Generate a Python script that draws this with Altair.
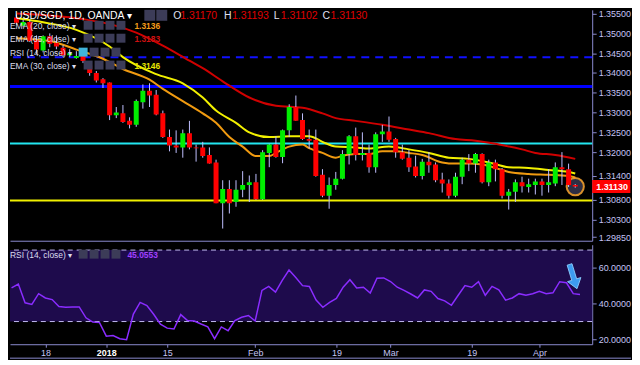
import altair as alt
import pandas as pd

# ---------------- data ----------------
opens = [1.3540, 1.3519, 1.3529, 1.3483, 1.3457, 1.3493, 1.3476, 1.3464, 1.3445, 1.3438,
         1.3443, 1.3419, 1.3400, 1.3384, 1.3376, 1.3293, 1.3298, 1.3279, 1.3269, 1.3326,
         1.3355, 1.3345, 1.3298, 1.3238, 1.3217, 1.3212, 1.3248, 1.3212, 1.3212, 1.3193,
         1.3174, 1.3071, 1.3107, 1.3074, 1.3105, 1.3117, 1.3124, 1.3081, 1.3198, 1.3219,
         1.3188, 1.3255, 1.3314, 1.3281, 1.3233, 1.3231, 1.3143, 1.3090, 1.3117, 1.3133,
         1.3195, 1.3240, 1.3193, 1.3198, 1.3162, 1.3245, 1.3252, 1.3233, 1.3200, 1.3186,
         1.3164, 1.3140, 1.3176, 1.3169, 1.3131, 1.3121, 1.3090, 1.3138, 1.3181, 1.3171,
         1.3195, 1.3124, 1.3174, 1.3157, 1.3090, 1.3100, 1.3124, 1.3112, 1.3117, 1.3126,
         1.3117, 1.3121, 1.3162, 1.3157, 1.31170]
highs = [1.3548, 1.3535, 1.3535, 1.3495, 1.3495, 1.3500, 1.3495, 1.3470, 1.3460, 1.3455,
         1.3450, 1.3429, 1.3405, 1.3387, 1.3376, 1.3314, 1.3319, 1.3288, 1.3333, 1.3371,
         1.3374, 1.3357, 1.3305, 1.3257, 1.3255, 1.3257, 1.3279, 1.3219, 1.3226, 1.3212,
         1.3181, 1.3129, 1.3129, 1.3129, 1.3152, 1.3141, 1.3145, 1.3205, 1.3221, 1.3240,
         1.3257, 1.3321, 1.3343, 1.3298, 1.3257, 1.3257, 1.3157, 1.3136, 1.3150, 1.3205,
         1.3243, 1.3262, 1.3250, 1.3219, 1.3250, 1.3269, 1.3290, 1.3236, 1.3219, 1.3205,
         1.3191, 1.3183, 1.3200, 1.3174, 1.3148, 1.3131, 1.3148, 1.3186, 1.3195, 1.3198,
         1.3197, 1.3181, 1.3181, 1.3160, 1.3107, 1.3131, 1.3138, 1.3133, 1.3133, 1.3133,
         1.3157, 1.3174, 1.3200, 1.3171, 1.31193]
lows = [1.3522, 1.3515, 1.3478, 1.3448, 1.3452, 1.3465, 1.3460, 1.3440, 1.3440, 1.3436,
        1.3425, 1.3393, 1.3376, 1.3362, 1.3281, 1.3286, 1.3274, 1.3260, 1.3264, 1.3310,
        1.3314, 1.3293, 1.3236, 1.3202, 1.3198, 1.3186, 1.3207, 1.3176, 1.3186, 1.3171,
        1.3071, 1.3007, 1.3045, 1.3062, 1.3086, 1.3074, 1.3079, 1.3079, 1.3162, 1.3186,
        1.3172, 1.3238, 1.3279, 1.3231, 1.3209, 1.3138, 1.3086, 1.3057, 1.3105, 1.3131,
        1.3169, 1.3179, 1.3179, 1.3148, 1.3148, 1.3226, 1.3226, 1.3186, 1.3181, 1.3150,
        1.3136, 1.3131, 1.3148, 1.3124, 1.3098, 1.3083, 1.3086, 1.3119, 1.3152, 1.3148,
        1.3121, 1.3114, 1.3126, 1.3083, 1.3055, 1.3074, 1.3098, 1.3098, 1.3093, 1.3090,
        1.3098, 1.3114, 1.3117, 1.3112, 1.31102]
closes = [1.3527, 1.3529, 1.3481, 1.3459, 1.3493, 1.3474, 1.3467, 1.3445, 1.3450, 1.3443,
          1.3430, 1.3400, 1.3381, 1.3374, 1.3293, 1.3300, 1.3276, 1.3269, 1.3329, 1.3355,
          1.3343, 1.3295, 1.3238, 1.3217, 1.3212, 1.3248, 1.3212, 1.3210, 1.3190, 1.3171,
          1.3071, 1.3107, 1.3071, 1.3105, 1.3117, 1.3124, 1.3081, 1.3200, 1.3219, 1.3188,
          1.3255, 1.3314, 1.3279, 1.3233, 1.3229, 1.3140, 1.3090, 1.3117, 1.3133, 1.3195,
          1.3240, 1.3193, 1.3198, 1.3162, 1.3245, 1.3252, 1.3231, 1.3200, 1.3183, 1.3162,
          1.3140, 1.3176, 1.3167, 1.3129, 1.3121, 1.3090, 1.3138, 1.3181, 1.3171, 1.3195,
          1.3124, 1.3174, 1.3157, 1.3090, 1.3100, 1.3124, 1.3114, 1.3119, 1.3126, 1.3117,
          1.3124, 1.3162, 1.3157, 1.3117, 1.31130]

rsi_values = [48.8, 51.0, 40.5, 39.6, 45.6, 43.2, 42.3, 38.4, 38.0, 38.1,
              38.2, 32.1, 29.7, 29.4, 21.8, 22.2, 20.4, 19.8, 34.2, 40.7,
              38.9, 34.1, 28.5, 26.3, 25.8, 33.9, 30.6, 30.3, 28.6, 27.0,
              20.4, 27.0, 24.9, 30.6, 32.4, 33.4, 30.3, 47.4, 49.7, 46.5,
              53.0, 58.8, 54.6, 50.1, 49.6, 42.0, 38.0, 40.7, 42.9, 49.2,
              53.4, 48.8, 49.2, 45.9, 54.2, 54.4, 52.4, 49.2, 47.4, 45.4,
              43.2, 47.7, 46.9, 42.9, 41.6, 39.1, 44.7, 50.1, 49.2, 52.3,
              44.7, 49.7, 47.7, 42.0, 43.2, 45.6, 44.7, 45.6, 46.9, 45.6,
              46.1, 52.3, 51.7, 45.6, 45.1]

ema20_idx = [0, 5, 9, 13, 16, 20, 22, 25, 28, 30, 32, 34, 36, 38, 39, 41, 43, 44, 46, 48,
             49, 51, 53, 55, 57, 59, 61, 64, 66, 68, 70, 72, 74, 77, 80, 83, 84]
ema20_val = [1.3488, 1.3481, 1.3459, 1.3436, 1.3410, 1.3383, 1.3360, 1.3329, 1.3298, 1.3274,
             1.3238, 1.3214, 1.3190, 1.3190, 1.3198, 1.3214, 1.3219, 1.3210, 1.3198, 1.3186,
             1.3191, 1.3195, 1.3195, 1.3202, 1.3202, 1.3198, 1.3193, 1.3174, 1.3171, 1.3171,
             1.3169, 1.3160, 1.3150, 1.3145, 1.3143, 1.3140, 1.3136]
ema30_idx = [0, 4, 9, 14, 16, 21, 25, 28, 30, 33, 35, 38, 41, 44, 46, 48, 51, 53, 56, 59,
             62, 65, 68, 71, 74, 77, 80, 83, 84]
ema30_val = [1.3538, 1.3528, 1.3509, 1.3467, 1.3440, 1.3397, 1.3374, 1.3338, 1.3305, 1.3274,
             1.3250, 1.3238, 1.3240, 1.3240, 1.3226, 1.3214, 1.3212, 1.3209, 1.3214, 1.3207,
             1.3198, 1.3186, 1.3183, 1.3174, 1.3162, 1.3160, 1.3155, 1.3150, 1.3146]
ema65_idx = [0, 5, 10, 15, 18, 22, 26, 28, 31, 35, 39, 43, 46, 48, 51, 55, 59, 62, 66, 69,
             72, 76, 78, 81, 84]
ema65_val = [1.3550, 1.3545, 1.3536, 1.3519, 1.3502, 1.3469, 1.3431, 1.3412, 1.3379, 1.3338,
             1.3317, 1.3312, 1.3298, 1.3286, 1.3279, 1.3269, 1.3257, 1.3248, 1.3233, 1.3229,
             1.3221, 1.3207, 1.3198, 1.3193, 1.3183]

level_blue_dashed = [1.3440]
level_blue_solid = [1.3366]
level_cyan = [1.3222]
level_yellow = [1.3078]
last_close = [1.31130]

price_ticks = [1.355, 1.35, 1.345, 1.34, 1.335, 1.33, 1.325, 1.32, 1.314, 1.308, 1.303, 1.2985]
rsi_ticks = [20, 40, 60]
rsi_bands = [70, 30]
x_tick_idx = [5, 14, 23, 36, 48, 56, 68, 78]
x_tick_txt = ["18", "2018", "15", "Feb", "19", "Mar", "19", "Apr"]

# ---------------- styling ----------------
W, H1, H2 = 585, 232, 100
AXC = "#8a8ad0"
LBL = "#c4c4f4"
FONT = "Liberation Sans"
ONE = alt.Data(values=[{"k": 0}])

xscale = alt.Scale(domain=[-0.23, 85.8], nice=False, zero=False)
pscale = alt.Scale(domain=[1.29762, 1.35595], nice=False, zero=False)
rscale = alt.Scale(domain=[17.3, 73.0], nice=False, zero=False)

top_x_axis = alt.Axis(labels=False, ticks=False, domain=True, domainColor=AXC, grid=False)
price_axis = alt.Axis(orient="right", values=price_ticks, format=".5f", labelColor=LBL,
                      labelFontSize=9, labelFont=FONT, tickColor=AXC, tickSize=4, domainColor=AXC,
                      labelPadding=2, grid=False, labelOverlap=False, labelFlush=False)
rsi_axis = alt.Axis(orient="right", values=rsi_ticks, format=".4f", labelColor=LBL,
                    labelFontSize=9, labelFont=FONT, tickColor=AXC, tickSize=4, domainColor=AXC,
                    labelPadding=2, grid=False, labelFlush=False)
label_expr = " : ".join(f"datum.value == {i} ? '{t}'" for i, t in zip(x_tick_idx, x_tick_txt)) + " : ''"
bottom_x_axis = alt.Axis(values=x_tick_idx, labelExpr=label_expr, labelFontSize=9, labelFont=FONT,
                         labelColor=alt.condition("datum.value == 14", alt.value("#ffffff"), alt.value(LBL)),
                         labelFontWeight=alt.condition("datum.value == 14", alt.value("bold"), alt.value("normal")),
                         tickColor=AXC, tickSize=3, domainColor=AXC, labelPadding=1, grid=False,
                         labelFlush=False)


def X():
    return alt.X("i:Q", scale=xscale, axis=top_x_axis, title=None)


def txt(s, x, y, color, size=8.5, weight="normal", align="left"):
    return alt.Chart(ONE).mark_text(text=s, color=color, fontSize=size, fontWeight=weight,
                                    align=align, baseline="middle", font=FONT).encode(
        x=alt.value(x), y=alt.value(y))


def box(x, y, w, h, color):
    return alt.Chart(ONE).mark_rect(color=color).encode(
        x=alt.value(x), x2=alt.value(x + w), y=alt.value(y), y2=alt.value(y + h))


candles = pd.DataFrame({"i": list(range(len(opens))), "open": opens, "high": highs,
                        "low": lows, "close": closes})
candles["dir"] = ["up" if c >= o else "down" for o, c in zip(opens, closes)]


def hline(levels, color, width, dash=None):
    m = dict(color=color, strokeWidth=width)
    if dash:
        m["strokeDash"] = dash
    return alt.Chart(pd.DataFrame({"p": levels})).mark_rule(**m).encode(
        y=alt.Y("p:Q", scale=pscale, axis=price_axis, title=None))


def ema(idx, val, color):
    return alt.Chart(pd.DataFrame({"i": idx, "v": val})).mark_line(
        color=color, strokeWidth=2, interpolate="monotone", clip=True).encode(
        x=X(), y=alt.Y("v:Q", scale=pscale, axis=price_axis, title=None))


wicks = alt.Chart(candles).mark_rule(color="#c0c0ff", strokeWidth=1, clip=True).encode(
    x=X(), y=alt.Y("low:Q", scale=pscale, axis=price_axis, title=None), y2="high:Q")
bodies = alt.Chart(candles).mark_bar(width=5, clip=True).encode(
    x=X(), y=alt.Y("open:Q", scale=pscale, axis=price_axis, title=None), y2="close:Q",
    color=alt.Color("dir:N", scale=alt.Scale(domain=["up", "down"], range=["#00ee00", "#ff0000"]),
                    legend=None))

last_df = pd.DataFrame({"i": [len(opens) - 1], "p": last_close})
ring = alt.Chart(last_df).mark_point(shape="circle", filled=True, color="#34344c", opacity=0.9,
                                     stroke="#f0a030", strokeWidth=2, size=300).encode(
    x=X(), y=alt.Y("p:Q", scale=pscale, axis=price_axis, title=None))
price_box = alt.Chart(last_df).mark_point(shape="M0,-0.5H2.95V0.5H0Z", filled=True, color="#ff0000",
                                          opacity=1, size=676).encode(
    x=alt.value(W), y=alt.Y("p:Q", scale=pscale, axis=price_axis, title=None))
price_txt = alt.Chart(last_df).mark_text(color="#ffffff", fontSize=9, font=FONT, align="left",
                                         baseline="middle", fontWeight="bold").encode(
    x=alt.value(W + 4), y=alt.Y("p:Q", scale=pscale, axis=price_axis, title=None),
    text=alt.Text("p:Q", format=".5f"))

legend_layers = [
    txt("USD/SGD, 1D, OANDA \u25be", 5, 6, "#ffffff", size=10.5),
    box(135, 0, 11, 11, "#3c3c58"), box(147, 0, 11, 11, "#3c3c58"),
    txt("O", 164, 6, "#e0e0f0", 10.5), txt("1.31170", 171, 6, "#e00000", 10.5),
    txt("H", 215, 6, "#e0e0f0", 10.5), txt("1.31193", 223, 6, "#e00000", 10.5),
    txt("L", 265, 6, "#e0e0f0", 10.5), txt("1.31102", 272, 6, "#e00000", 10.5),
    txt("C", 314, 6, "#e0e0f0", 10.5), txt("1.31130", 322, 6, "#e00000", 10.5),
]
rows = [("EMA (20, close) \u25be", 16, "1.3136", "#f59c1a", 74),
        ("EMA (65, close) \u25be", 29, "1.3183", "#d01010", 74),
        ("RSI (14, close) \u25be", 43, "", "#ffffff", 69),
        ("EMA (30, close) \u25be", 56, "1.3146", "#e6e600", 74)]
for name, yy, val, col, bx in rows:
    legend_layers.append(txt(name, 0, yy, "#dcdcec"))
    for k in range(4):
        c = "#3fb4dc" if (bx == 69 and k == 0) else "#3c3c58"
        legend_layers.append(box(bx + 11 * k, yy - 5, 9, 9, c))
    if val:
        legend_layers.append(txt(val, 125, yy, col, 8.5, "bold"))

top = alt.layer(
    hline(level_blue_dashed, "#1010ff", 2, [8, 6]),
    hline(level_blue_solid, "#0000ff", 3),
    hline(level_cyan, "#22e6f0", 2),
    hline(level_yellow, "#f0f000", 2),
    ema(ema65_idx, ema65_val, "#d00000"),
    ema(ema30_idx, ema30_val, "#f2f000"),
    ema(ema20_idx, ema20_val, "#f09a10"),
    ring, wicks, bodies, price_box, price_txt,
    *legend_layers,
).properties(width=W, height=H1)

# ---------------- RSI panel ----------------
rsi_df = pd.DataFrame({"i": list(range(len(rsi_values))), "r": rsi_values})
band_fill = alt.Chart(ONE).mark_rect(color="#1e0b4c").encode(
    x=alt.value(0), x2=alt.value(W),
    y=alt.YDatum(rsi_bands[0], scale=rscale, axis=rsi_axis, title=None),
    y2=alt.Y2Datum(rsi_bands[1]))
band_lines = alt.Chart(pd.DataFrame({"b": rsi_bands})).mark_rule(
    color="#c0b8f0", strokeWidth=1, strokeDash=[5, 4]).encode(
    y=alt.Y("b:Q", scale=rscale, axis=rsi_axis, title=None))
rsi_line = alt.Chart(rsi_df).mark_line(color="#8a2cff", strokeWidth=1.5, clip=True).encode(
    x=alt.X("i:Q", scale=xscale, axis=bottom_x_axis, title=None),
    y=alt.Y("r:Q", scale=rscale, axis=rsi_axis, title=None))
arrow = alt.Chart(ONE).mark_point(
    shape="M0,-1L0.55,-0.25L0.2,-0.25L0.2,1L-0.2,1L-0.2,-0.25L-0.55,-0.25Z",
    filled=True, color="#3d9cf0", stroke="#8fd0ff", strokeWidth=0.8, opacity=1,
    size=650, angle=163).encode(x=alt.value(566), y=alt.value(32))
bottom_line = alt.Chart(ONE).mark_rule(color=AXC, strokeWidth=1).encode(
    x=alt.value(0), x2=alt.value(W + 39), y=alt.value(H2 + 14))

rsi_legend = [txt("RSI (14, close) \u25be", 0, 10, "#dcdcec")]
for k in range(4):
    rsi_legend.append(box(69 + 11 * k, 5, 9, 9, "#3c3c58"))
rsi_legend.append(txt("45.0553", 118, 10, "#a040ff", 8.5, "bold"))

bottom = alt.layer(band_fill, band_lines, rsi_line, arrow, bottom_line, *rsi_legend).properties(
    width=W, height=H2)

chart = alt.vconcat(top, bottom, spacing=1).properties(
    padding=0, background="#000000"
).configure_view(stroke="transparent").configure_axis(labelFont=FONT)

chart.save("out.html", embed_options={"renderer": "svg", "actions": False})
